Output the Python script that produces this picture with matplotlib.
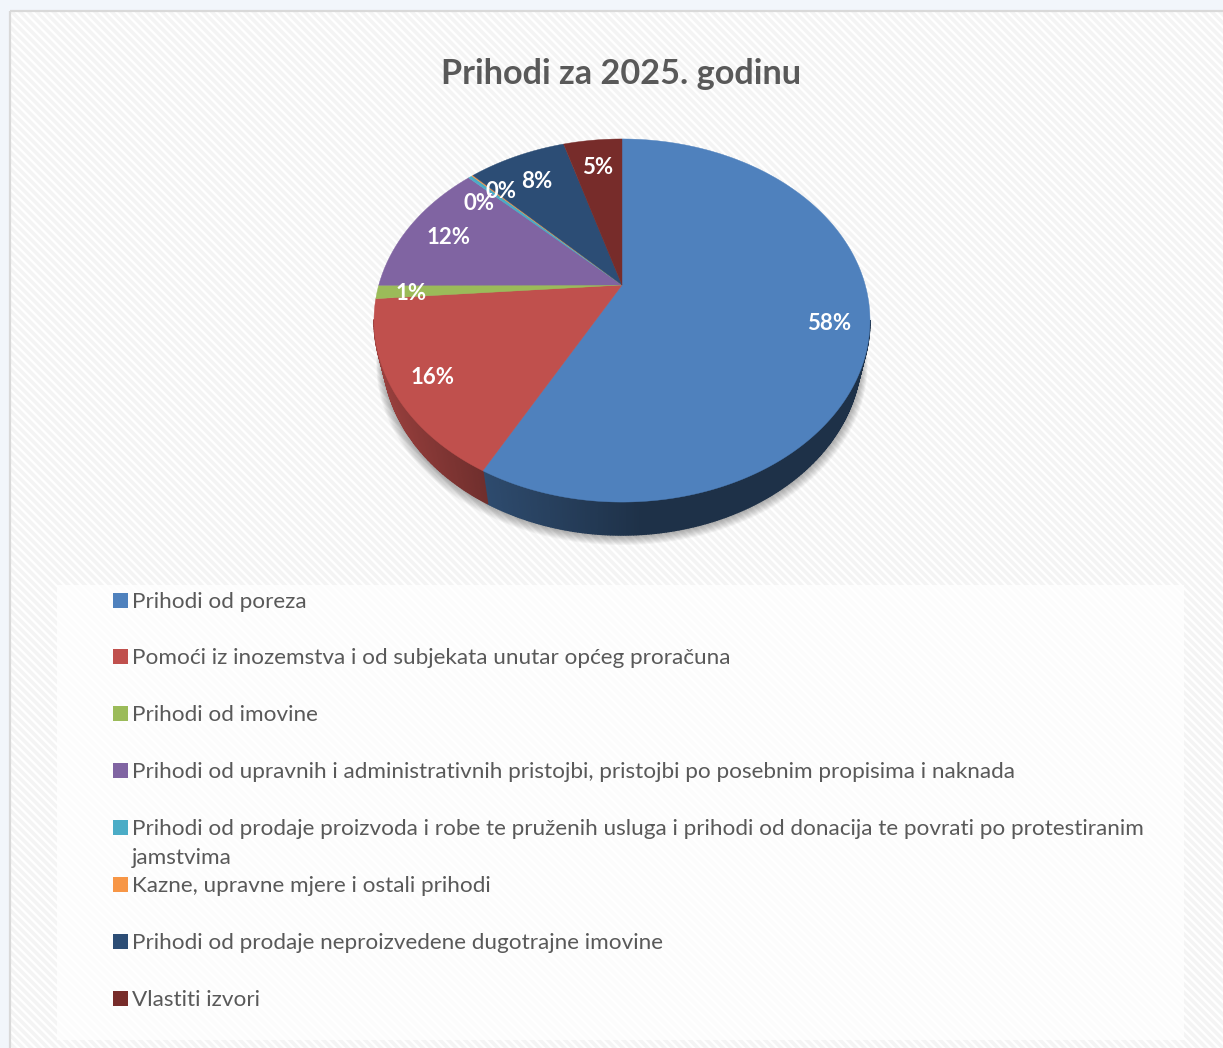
"""Prihodi za 2025. godinu: Excel-style 3D pie, redrawn on a pixel canvas."""
import matplotlib
matplotlib.use("Agg")
import matplotlib.pyplot as plt
import numpy as np
from matplotlib.colors import to_rgb
from matplotlib.patches import Rectangle

W, H = 1223, 1048

categories = [
    "Prihodi od poreza",
    "Pomoći iz inozemstva i od subjekata unutar općeg proračuna",
    "Prihodi od imovine",
    "Prihodi od upravnih i administrativnih pristojbi, pristojbi po posebnim propisima i naknada",
    "Prihodi od prodaje proizvoda i robe te pruženih usluga i prihodi od donacija te povrati po protestiranim\njamstvima",
    "Kazne, upravne mjere i ostali prihodi",
    "Prihodi od prodaje neproizvedene dugotrajne imovine",
    "Vlastiti izvori",
]
values = [57.8, 15.9, 1.2, 12.3, 0.3, 0.1, 7.7, 4.6]
colors = ["#4f81bd", "#c0504d", "#9bbb59", "#8064a2", "#4bacc6", "#f79646", "#2c4d75", "#772c2a"]
label_xy = [(829, 324), (433, 377), (411, 294), (449, 238), (479, 203), (501, 192), (537, 182), (598, 167)]
legend_rows = [602, 658, 715, 772, 829, 886, 943, 1000]

# pie geometry: perspective mapping of the unit disc onto the tilted ellipse
APEX_X, APEX_Y = 622, 285
K, A, C = 0.1956, 174.6, 243.2
DEPTH, BOTTOM_SHRINK = 33, 0.965
TEXT = "#595959"


def rim(phi):
    """phi in radians, clockwise from 12 o'clock -> offsets from the apex."""
    u, v = np.sin(phi), np.cos(phi)
    d = 1 + K * v
    return C * u / d, -A * v / d  # y grows downward


plt.rcParams["font.family"] = ["Lato", "DejaVu Sans"]
plt.rcParams["hatch.linewidth"] = 2.6

fig = plt.figure(figsize=(W / 100, H / 100), dpi=100, facecolor="#f2f6fb")
ax = fig.add_axes([0, 0, 1, 1])
ax.set_xlim(0, W)
ax.set_ylim(H, 0)
ax.axis("off")

# chart area: diagonal stripes, grey edge, washed-out legend panel
ax.add_patch(Rectangle((10, 11), W, H, fc="white", ec="#f4f4f4", lw=0, hatch="\\\\\\\\", zorder=1))
ax.add_patch(Rectangle((10, 11), W, H, fc="none", ec="#d9d9d9", lw=1.6, zorder=1.5))
ax.add_patch(Rectangle((57, 585), 1127, 455, fc="white", ec="none", alpha=0.8, zorder=2))

ax.text(621, 74, "Prihodi za 2025. godinu", fontsize=24.7, fontweight="bold", color=TEXT,
        ha="center", va="center", zorder=8)

# soft shadow under the drum
all_phi = np.linspace(0, 2 * np.pi, 721)
bx, by = rim(all_phi)
for i in range(1, 11):
    ax.fill(APEX_X + bx * (BOTTOM_SHRINK + i * 0.0026), APEX_Y + by + DEPTH + i * 1.0,
            color="black", alpha=0.035, lw=0, zorder=3)

# drum side, darkening left to right; only the part below the widest line shows
cum = np.cumsum([0] + values) / sum(values) * 2 * np.pi
for start, end, col in zip(cum[:-1], cum[1:], colors):
    n = max(int(np.degrees(end - start) * 2), 1)
    phi = np.linspace(start, end, n + 1)
    x, y = rim(phi)
    for j in range(n):
        if np.cos(phi[j]) > -K and np.cos(phi[j + 1]) > -K:
            continue
        shade = np.interp((x[j] + x[j + 1]) / 2, [-248, -138, 20, 248], [0.8, 0.58, 0.38, 0.38])
        c = tuple(ch * shade for ch in to_rgb(col))
        xs = [x[j], x[j + 1], x[j + 1] * BOTTOM_SHRINK, x[j] * BOTTOM_SHRINK]
        ys = [y[j], y[j + 1], y[j + 1] + DEPTH, y[j] + DEPTH]
        ax.fill(APEX_X + np.array(xs), APEX_Y + np.array(ys), color=c, lw=1.0, zorder=4)

# top face
for start, end, col in zip(cum[:-1], cum[1:], colors):
    phi = np.linspace(start, end, max(int(np.degrees(end - start) * 2), 2) + 1)
    x, y = rim(phi)
    ax.fill(APEX_X + np.r_[0, x], APEX_Y + np.r_[0, y], color=col, lw=0.3, zorder=5)

for v, (lx, ly) in zip(values, label_xy):
    ax.text(lx, ly, f"{v:.0f}%", fontsize=16, fontweight="bold", color="white",
            ha="center", va="center", zorder=7)

for label, col, row in zip(categories, colors, legend_rows):
    ax.add_patch(Rectangle((113, row - 9.5), 14.5, 15, fc=col, ec="none", zorder=6))
    for k, line in enumerate(label.split("\n")):
        ax.text(132, row + k * 29, line, fontsize=16.2, color=TEXT, ha="left", va="center", zorder=6)

fig.savefig("out.png", dpi=100, facecolor=fig.get_facecolor())
